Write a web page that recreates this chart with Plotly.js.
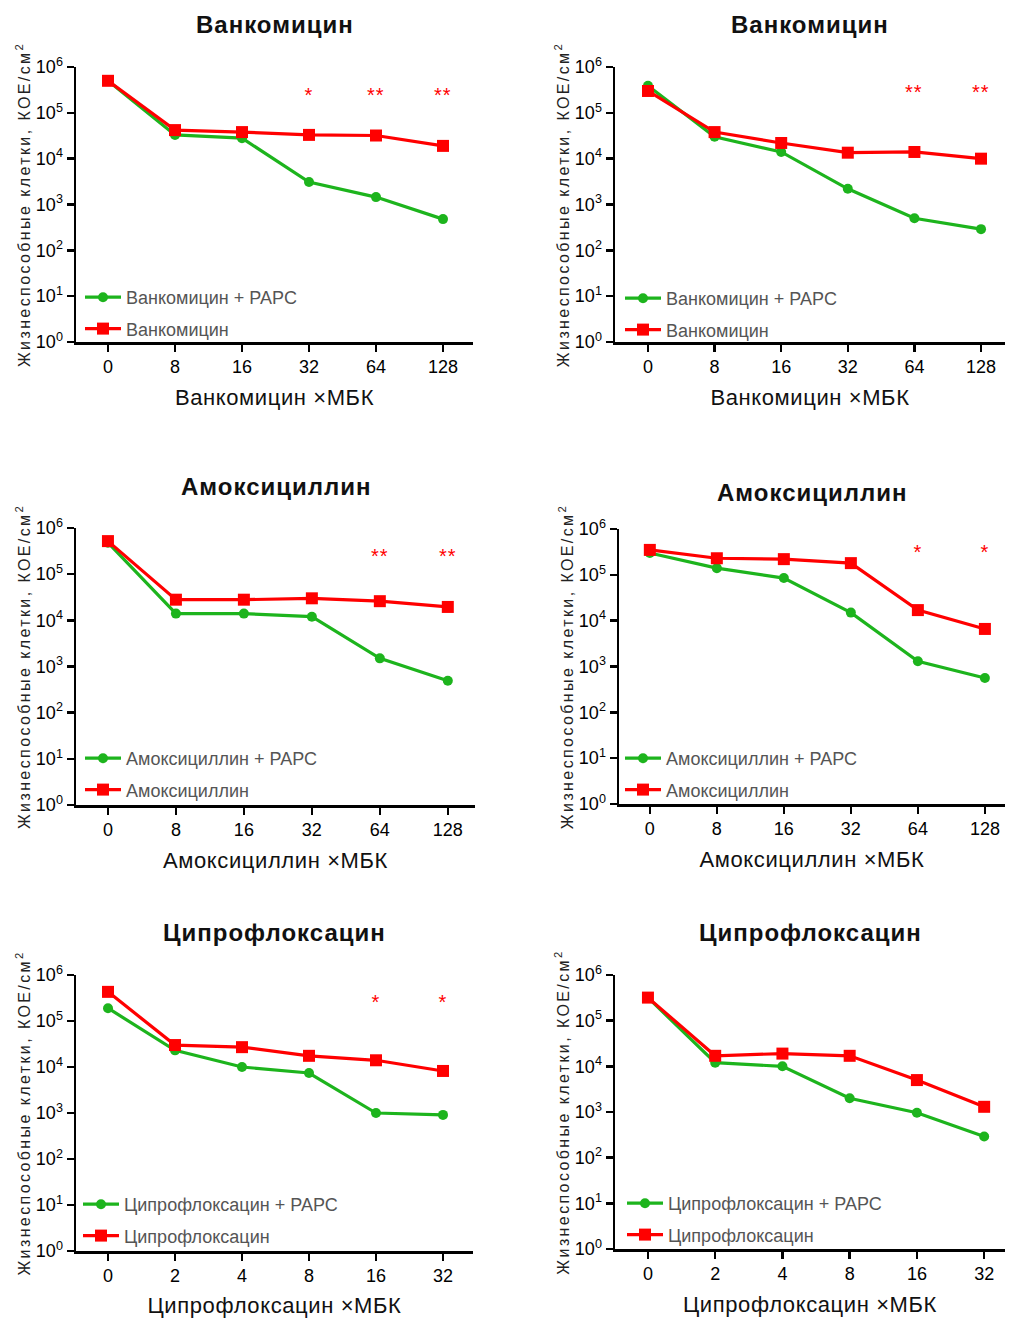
<!DOCTYPE html>
<html>
<head>
<meta charset="utf-8">
<script src="https://cdn.plot.ly/plotly-3.0.1.min.js"></script>
<style>
html,body{margin:0;padding:0;background:#fff;}
#chart{width:1010px;height:1318px;}
#chart text.ytitle,#chart text.y2title,#chart text.y3title,#chart text.y4title,#chart text.y5title,#chart text.y6title{letter-spacing:2.4px;}
#chart text.xtitle,#chart text.x2title,#chart text.x3title,#chart text.x4title,#chart text.x5title,#chart text.x6title{letter-spacing:0.6px;}
#chart text.annotation-text{letter-spacing:1px;}
</style>
</head>
<body>
<div id="chart"></div>
<script>
// ---- data ----
var catsVA = ['0', '8', '16', '32', '64', '128'];
var catsCip = ['0', '2', '4', '8', '16', '32'];

var vanA_papc = [5.0e5, 3.3e4, 2.8e4, 3.1e3, 1.45e3, 480];
var vanA_only = [5.0e5, 4.2e4, 3.8e4, 3.3e4, 3.2e4, 1.9e4];
var vanB_papc = [3.9e5, 3.0e4, 1.4e4, 2.2e3, 500, 290];
var vanB_only = [3.0e5, 3.8e4, 2.2e4, 1.35e4, 1.4e4, 1.0e4];
var amxA_papc = [4.8e5, 1.4e4, 1.4e4, 1.2e4, 1.5e3, 490];
var amxA_only = [5.2e5, 2.8e4, 2.8e4, 3.0e4, 2.6e4, 1.95e4];
var amxB_papc = [3.0e5, 1.4e5, 8.5e4, 1.5e4, 1.3e3, 560];
var amxB_only = [3.5e5, 2.3e5, 2.2e5, 1.8e5, 1.7e4, 6.6e3];
var cipA_papc = [1.9e5, 2.3e4, 1.0e4, 7.4e3, 1.0e3, 910];
var cipA_only = [4.3e5, 3.0e4, 2.7e4, 1.75e4, 1.4e4, 8.2e3];
var cipB_papc = [3.2e5, 1.2e4, 1.0e4, 2.0e3, 960, 290];
var cipB_only = [3.2e5, 1.7e4, 1.9e4, 1.7e4, 5.0e3, 1.3e3];

var starsVanA = ['', '', '', '*', '**', '**'];
var starsVanB = ['', '', '', '', '**', '**'];
var starsAmxA = ['', '', '', '', '**', '**'];
var starsAmxB = ['', '', '', '', '*', '*'];
var starsCipA = ['', '', '', '', '*', '*'];
var starsCipB = ['', '', '', '', '', ''];

var drugNames = ['Ванкомицин', 'Ванкомицин', 'Амоксициллин', 'Амоксициллин', 'Ципрофлоксацин', 'Ципрофлоксацин'];
var papcSuffix = ' + РАРС';
var xTitleSuffix = ' ×МБК';
var yTitleText = 'Жизнеспособные клетки, КОЕ/см<sup>2</sup>';
var yTickVals = [1, 10, 100, 1000, 10000, 100000, 1000000];
var yTickText = ['10<sup>0</sup>', '10<sup>1</sup>', '10<sup>2</sup>', '10<sup>3</sup>', '10<sup>4</sup>', '10<sup>5</sup>', '10<sup>6</sup>'];

// ---- layout geometry (pixels) ----
var W = 1010, H = 1318;
function px(x) { return x / W; }
function py(y) { return 1 - y / H; }

var panels = [
  {cats: catsVA, papc: vanA_papc, only: vanA_only, stars: starsVanA, px0: 76, px1: 473, py0: 67, py1: 342, xr: [-0.478, 5.448], titleY: 25, starY: 5.38, legX: 80, legY: 279},
  {cats: catsVA, papc: vanB_papc, only: vanB_only, stars: starsVanB, px0: 615, px1: 1005, py0: 67, py1: 342, xr: [-0.495, 5.36], titleY: 25, starY: 5.45, legX: 620, legY: 280},
  {cats: catsVA, papc: amxA_papc, only: amxA_only, stars: starsAmxA, px0: 76, px1: 475, py0: 528, py1: 805, xr: [-0.47, 5.40], titleY: 486, starY: 5.39, legX: 80, legY: 740},
  {cats: catsVA, papc: amxB_papc, only: amxB_only, stars: starsAmxB, px0: 619, px1: 1005, py0: 529, py1: 804, xr: [-0.46, 5.30], titleY: 492, starY: 5.49, legX: 620, legY: 740},
  {cats: catsCip, papc: cipA_papc, only: cipA_only, stars: starsCipA, px0: 76, px1: 473, py0: 975, py1: 1251, xr: [-0.478, 5.448], titleY: 932, starY: 5.41, legX: 78, legY: 1186},
  {cats: catsCip, papc: cipB_papc, only: cipB_only, stars: starsCipB, px0: 615, px1: 1005, py0: 975, py1: 1249, xr: [-0.49, 5.31], titleY: 932, starY: 5.45, legX: 622, legY: 1185}
];

var FONT = 'Liberation Sans, Arial, sans-serif';
var GREEN = '#1db41d';
var RED = '#ff0000';

var data = [];
var layout = {
  width: W, height: H,
  margin: {l: 0, r: 0, t: 0, b: 0},
  paper_bgcolor: '#ffffff',
  plot_bgcolor: 'rgba(0,0,0,0)',
  font: {family: FONT, color: '#111'},
  showlegend: true,
  annotations: []
};

panels.forEach(function (p, i) {
  var n = i + 1;
  var xa = 'x' + (n === 1 ? '' : n);
  var ya = 'y' + (n === 1 ? '' : n);
  var legName = n === 1 ? 'legend' : 'legend' + n;
  var name = drugNames[i];

  data.push({
    type: 'scatter', mode: 'lines+markers', x: p.cats, y: p.papc,
    xaxis: xa, yaxis: ya, legend: legName, legendgroup: 'g' + n + 'a',
    name: name + papcSuffix,
    line: {color: GREEN, width: 3.2},
    marker: {symbol: 'circle', size: 10, color: GREEN}
  });
  data.push({
    type: 'scatter', mode: 'lines+markers', x: p.cats, y: p.only,
    xaxis: xa, yaxis: ya, legend: legName, legendgroup: 'g' + n + 'b',
    name: name,
    line: {color: RED, width: 3.2},
    marker: {symbol: 'square', size: 12, color: RED}
  });

  var xKey = 'xaxis' + (n === 1 ? '' : n);
  var yKey = 'yaxis' + (n === 1 ? '' : n);
  layout[xKey] = {
    domain: [px(p.px0), px(p.px1)],
    anchor: ya,
    type: 'category',
    categoryorder: 'array', categoryarray: p.cats,
    range: p.xr,
    showgrid: false, zeroline: false,
    showline: true, linecolor: '#000', linewidth: 2.5,
    ticks: 'outside', ticklen: 7, tickwidth: 2.5, tickcolor: '#000',
    tickfont: {size: 18, color: '#000', family: FONT},
    title: {text: name + xTitleSuffix, font: {size: 22, color: '#111', family: FONT}, standoff: 14},
    fixedrange: true
  };
  layout[yKey] = {
    domain: [py(p.py1), py(p.py0)],
    anchor: xa,
    type: 'log',
    range: [0, 6],
    tickvals: yTickVals, ticktext: yTickText,
    showgrid: false, zeroline: false,
    showline: true, linecolor: '#000', linewidth: 2.5,
    ticks: 'outside', ticklen: 7, tickwidth: 2.5, tickcolor: '#000',
    tickfont: {size: 18, color: '#000', family: FONT},
    title: {text: yTitleText, font: {size: 16, color: '#222', family: FONT}, standoff: 2},
    fixedrange: true
  };

  layout[legName] = {
    x: px(p.legX), y: py(p.legY), xanchor: 'left', yanchor: 'top',
    bgcolor: 'rgba(0,0,0,0)', borderwidth: 0,
    font: {size: 18, color: '#555', family: FONT},
    traceorder: 'grouped', tracegroupgap: 5,
    itemwidth: 36
  };

  // panel title
  layout.annotations.push({
    xref: 'paper', yref: 'paper',
    x: px((p.px0 + p.px1) / 2), y: py(p.titleY),
    xanchor: 'center', yanchor: 'middle', showarrow: false,
    text: '<b>' + name + '</b>',
    font: {size: 24, color: '#111', family: FONT}
  });

  // significance stars (x given as category index)
  p.stars.forEach(function (s, k) {
    if (!s) return;
    layout.annotations.push({
      xref: xa, yref: ya, x: k, y: p.starY,
      xanchor: 'center', yanchor: 'middle', showarrow: false,
      text: s, font: {size: 20, color: RED, family: FONT}
    });
  });
});

Plotly.newPlot('chart', data, layout, {staticPlot: true, displayModeBar: false});
</script>
</body>
</html>
